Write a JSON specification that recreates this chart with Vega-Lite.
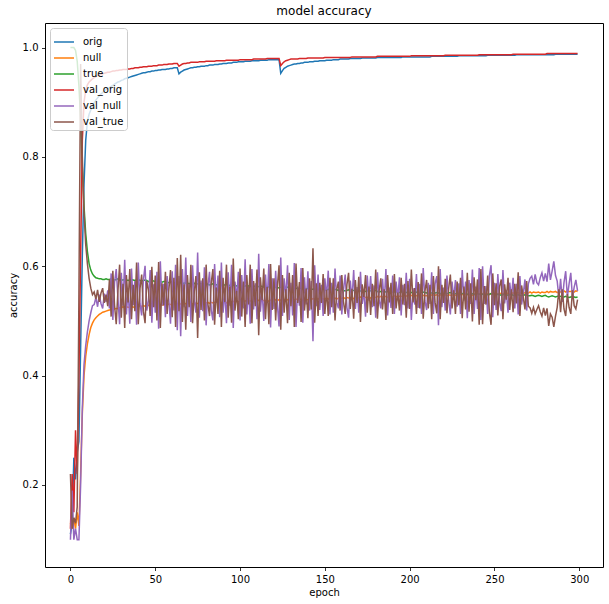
{"$schema":"https://vega.github.io/schema/vega-lite/v6.json","width":558,"height":544,"autosize":{"type":"none"},"padding":{"left":45,"top":23,"right":6,"bottom":37},"background":"white",
"title":{"text":"model accuracy","fontSize":12,"font":"DejaVu Sans","fontWeight":"normal","color":"black","offset":5},
"config":{"view":{"stroke":"black","strokeWidth":1},"font":"DejaVu Sans","axis":{"domain":false,"grid":false,"ticks":true,"tickColor":"black","tickSize":3.5,"tickWidth":0.8,"labelFont":"DejaVu Sans","labelFontSize":10,"labelColor":"black","labelPadding":3.5,"titleFont":"DejaVu Sans","titleFontSize":10,"titleFontWeight":"normal","titleColor":"black"},"legend":{"labelFont":"DejaVu Sans","labelFontSize":10,"labelColor":"black"}},
"data":{"values":[
{"e":0,"orig":0.11,"null":0.13,"true":1,"val_orig":0.12,"val_null":0.1,"val_true":0.22},
{"e":1,"orig":0.13,"null":0.12,"true":1,"val_orig":0.22,"val_null":0.19,"val_true":0.12},
{"e":2,"orig":0.25,"null":0.14,"true":1,"val_orig":0.15,"val_null":0.1,"val_true":0.14},
{"e":3,"orig":0.21,"null":0.12,"true":0.995,"val_orig":0.3,"val_null":0.12,"val_true":0.13},
{"e":4,"orig":0.26,"null":0.15,"true":0.975,"val_orig":0.22,"val_null":0.1,"val_true":0.16},
{"e":5,"orig":0.28,"null":0.125,"true":0.93,"val_orig":0.4,"val_null":0.1,"val_true":0.55},
{"e":6,"orig":0.45,"null":0.22,"true":0.87,"val_orig":0.62,"val_null":0.2,"val_true":0.97},
{"e":7,"orig":0.62,"null":0.33,"true":0.78,"val_orig":0.83,"val_null":0.34,"val_true":0.8},
{"e":8,"orig":0.75,"null":0.4,"true":0.71,"val_orig":0.9,"val_null":0.42,"val_true":0.7},
{"e":9,"orig":0.83,"null":0.435,"true":0.66,"val_orig":0.922,"val_null":0.455,"val_true":0.64},
{"e":10,"orig":0.865,"null":0.458,"true":0.627,"val_orig":0.932,"val_null":0.48,"val_true":0.605},
{"e":11,"orig":0.878,"null":0.475,"true":0.605,"val_orig":0.937,"val_null":0.5,"val_true":0.578},
{"e":12,"orig":0.886,"null":0.488,"true":0.593,"val_orig":0.94,"val_null":0.515,"val_true":0.56},
{"e":13,"orig":0.893,"null":0.496,"true":0.586,"val_orig":0.943,"val_null":0.528,"val_true":0.548},
{"e":14,"orig":0.899,"null":0.502,"true":0.582,"val_orig":0.945,"val_null":0.53,"val_true":0.553},
{"e":15,"orig":0.904,"null":0.506,"true":0.579,"val_orig":0.947,"val_null":0.543,"val_true":0.54},
{"e":16,"orig":0.908,"null":0.509,"true":0.578,"val_orig":0.949,"val_null":0.526,"val_true":0.557},
{"e":17,"orig":0.912,"null":0.512,"true":0.577,"val_orig":0.95,"val_null":0.548,"val_true":0.535},
{"e":18,"orig":0.915,"null":0.514,"true":0.577,"val_orig":0.951,"val_null":0.532,"val_true":0.551},
{"e":19,"orig":0.918,"null":0.516,"true":0.576,"val_orig":0.952,"val_null":0.523,"val_true":0.56},
{"e":20,"orig":0.921,"null":0.517,"true":0.576,"val_orig":0.953,"val_null":0.55,"val_true":0.533},
{"e":21,"orig":0.923,"null":0.518,"true":0.577,"val_orig":0.954,"val_null":0.535,"val_true":0.548},
{"e":22,"orig":0.925,"null":0.519,"true":0.576,"val_orig":0.955,"val_null":0.556,"val_true":0.527},
{"e":23,"orig":0.927,"null":0.52,"true":0.576,"val_orig":0.955,"val_null":0.523,"val_true":0.576},
{"e":24,"orig":0.929,"null":0.521,"true":0.577,"val_orig":0.956,"val_null":0.587,"val_true":0.508},
{"e":25,"orig":0.931,"null":0.522,"true":0.576,"val_orig":0.957,"val_null":0.502,"val_true":0.592},
{"e":26,"orig":0.933,"null":0.522,"true":0.575,"val_orig":0.957,"val_null":0.57,"val_true":0.529},
{"e":27,"orig":0.935,"null":0.523,"true":0.576,"val_orig":0.958,"val_null":0.595,"val_true":0.494},
{"e":28,"orig":0.937,"null":0.523,"true":0.577,"val_orig":0.958,"val_null":0.541,"val_true":0.555},
{"e":29,"orig":0.938,"null":0.524,"true":0.576,"val_orig":0.959,"val_null":0.494,"val_true":0.603},
{"e":30,"orig":0.94,"null":0.524,"true":0.575,"val_orig":0.959,"val_null":0.588,"val_true":0.506},
{"e":31,"orig":0.941,"null":0.526,"true":0.575,"val_orig":0.96,"val_null":0.528,"val_true":0.568},
{"e":32,"orig":0.943,"null":0.524,"true":0.576,"val_orig":0.96,"val_null":0.612,"val_true":0.487},
{"e":33,"orig":0.944,"null":0.526,"true":0.575,"val_orig":0.96,"val_null":0.512,"val_true":0.584},
{"e":34,"orig":0.945,"null":0.525,"true":0.574,"val_orig":0.961,"val_null":0.56,"val_true":0.534},
{"e":35,"orig":0.946,"null":0.525,"true":0.575,"val_orig":0.961,"val_null":0.495,"val_true":0.595},
{"e":36,"orig":0.947,"null":0.527,"true":0.576,"val_orig":0.962,"val_null":0.596,"val_true":0.503},
{"e":37,"orig":0.948,"null":0.525,"true":0.575,"val_orig":0.962,"val_null":0.529,"val_true":0.566},
{"e":38,"orig":0.949,"null":0.527,"true":0.574,"val_orig":0.963,"val_null":0.573,"val_true":0.518},
{"e":39,"orig":0.95,"null":0.526,"true":0.575,"val_orig":0.963,"val_null":0.493,"val_true":0.607},
{"e":40,"orig":0.951,"null":0.526,"true":0.576,"val_orig":0.963,"val_null":0.607,"val_true":0.494},
{"e":41,"orig":0.952,"null":0.528,"true":0.574,"val_orig":0.964,"val_null":0.532,"val_true":0.559},
{"e":42,"orig":0.953,"null":0.526,"true":0.573,"val_orig":0.964,"val_null":0.51,"val_true":0.585},
{"e":43,"orig":0.954,"null":0.528,"true":0.574,"val_orig":0.965,"val_null":0.575,"val_true":0.518},
{"e":44,"orig":0.954,"null":0.527,"true":0.575,"val_orig":0.965,"val_null":0.601,"val_true":0.496},
{"e":45,"orig":0.955,"null":0.527,"true":0.574,"val_orig":0.965,"val_null":0.519,"val_true":0.573},
{"e":46,"orig":0.956,"null":0.529,"true":0.572,"val_orig":0.966,"val_null":0.538,"val_true":0.557},
{"e":47,"orig":0.956,"null":0.527,"true":0.573,"val_orig":0.966,"val_null":0.593,"val_true":0.509},
{"e":48,"orig":0.957,"null":0.529,"true":0.574,"val_orig":0.966,"val_null":0.497,"val_true":0.599},
{"e":49,"orig":0.957,"null":0.528,"true":0.573,"val_orig":0.967,"val_null":0.567,"val_true":0.525},
{"e":50,"orig":0.958,"null":0.528,"true":0.572,"val_orig":0.967,"val_null":0.515,"val_true":0.583},
{"e":51,"orig":0.958,"null":0.53,"true":0.572,"val_orig":0.967,"val_null":0.59,"val_true":0.501},
{"e":52,"orig":0.959,"null":0.528,"true":0.573,"val_orig":0.968,"val_null":0.486,"val_true":0.608},
{"e":53,"orig":0.959,"null":0.53,"true":0.572,"val_orig":0.968,"val_null":0.609,"val_true":0.487},
{"e":54,"orig":0.96,"null":0.529,"true":0.571,"val_orig":0.968,"val_null":0.528,"val_true":0.569},
{"e":55,"orig":0.96,"null":0.529,"true":0.572,"val_orig":0.969,"val_null":0.568,"val_true":0.529},
{"e":56,"orig":0.96,"null":0.531,"true":0.572,"val_orig":0.969,"val_null":0.507,"val_true":0.59},
{"e":57,"orig":0.961,"null":0.529,"true":0.571,"val_orig":0.969,"val_null":0.582,"val_true":0.513},
{"e":58,"orig":0.961,"null":0.531,"true":0.57,"val_orig":0.97,"val_null":0.54,"val_true":0.556},
{"e":59,"orig":0.962,"null":0.53,"true":0.571,"val_orig":0.97,"val_null":0.495,"val_true":0.593},
{"e":60,"orig":0.962,"null":0.53,"true":0.572,"val_orig":0.97,"val_null":0.591,"val_true":0.507},
{"e":61,"orig":0.963,"null":0.532,"true":0.57,"val_orig":0.971,"val_null":0.519,"val_true":0.579},
{"e":62,"orig":0.963,"null":0.53,"true":0.569,"val_orig":0.971,"val_null":0.603,"val_true":0.489},
{"e":63,"orig":0.963,"null":0.532,"true":0.57,"val_orig":0.971,"val_null":0.483,"val_true":0.615},
{"e":64,"orig":0.952,"null":0.531,"true":0.571,"val_orig":0.966,"val_null":0.582,"val_true":0.518},
{"e":65,"orig":0.955,"null":0.531,"true":0.57,"val_orig":0.968,"val_null":0.472,"val_true":0.621},
{"e":66,"orig":0.957,"null":0.532,"true":0.569,"val_orig":0.97,"val_null":0.595,"val_true":0.498},
{"e":67,"orig":0.959,"null":0.53,"true":0.569,"val_orig":0.971,"val_null":0.525,"val_true":0.567},
{"e":68,"orig":0.96,"null":0.532,"true":0.57,"val_orig":0.971,"val_null":0.616,"val_true":0.484},
{"e":69,"orig":0.961,"null":0.532,"true":0.569,"val_orig":0.972,"val_null":0.509,"val_true":0.584},
{"e":70,"orig":0.962,"null":0.532,"true":0.568,"val_orig":0.972,"val_null":0.568,"val_true":0.525},
{"e":71,"orig":0.963,"null":0.533,"true":0.569,"val_orig":0.973,"val_null":0.498,"val_true":0.603},
{"e":72,"orig":0.963,"null":0.531,"true":0.57,"val_orig":0.973,"val_null":0.602,"val_true":0.496},
{"e":73,"orig":0.964,"null":0.533,"true":0.569,"val_orig":0.973,"val_null":0.537,"val_true":0.553},
{"e":74,"orig":0.964,"null":0.532,"true":0.567,"val_orig":0.973,"val_null":0.515,"val_true":0.582},
{"e":75,"orig":0.965,"null":0.532,"true":0.568,"val_orig":0.973,"val_null":0.625,"val_true":0.469},
{"e":76,"orig":0.965,"null":0.533,"true":0.569,"val_orig":0.974,"val_null":0.506,"val_true":0.589},
{"e":77,"orig":0.966,"null":0.532,"true":0.568,"val_orig":0.974,"val_null":0.574,"val_true":0.52},
{"e":78,"orig":0.966,"null":0.534,"true":0.567,"val_orig":0.974,"val_null":0.518,"val_true":0.578},
{"e":79,"orig":0.966,"null":0.533,"true":0.568,"val_orig":0.974,"val_null":0.598,"val_true":0.501},
{"e":80,"orig":0.967,"null":0.533,"true":0.569,"val_orig":0.975,"val_null":0.492,"val_true":0.603},
{"e":81,"orig":0.967,"null":0.534,"true":0.567,"val_orig":0.975,"val_null":0.562,"val_true":0.532},
{"e":82,"orig":0.968,"null":0.532,"true":0.566,"val_orig":0.975,"val_null":0.59,"val_true":0.509},
{"e":83,"orig":0.968,"null":0.534,"true":0.567,"val_orig":0.975,"val_null":0.52,"val_true":0.569},
{"e":84,"orig":0.968,"null":0.533,"true":0.568,"val_orig":0.975,"val_null":0.501,"val_true":0.595},
{"e":85,"orig":0.969,"null":0.534,"true":0.567,"val_orig":0.975,"val_null":0.604,"val_true":0.493},
{"e":86,"orig":0.969,"null":0.535,"true":0.566,"val_orig":0.976,"val_null":0.533,"val_true":0.561},
{"e":87,"orig":0.969,"null":0.533,"true":0.567,"val_orig":0.976,"val_null":0.583,"val_true":0.513},
{"e":88,"orig":0.97,"null":0.535,"true":0.567,"val_orig":0.976,"val_null":0.507,"val_true":0.592},
{"e":89,"orig":0.97,"null":0.534,"true":0.566,"val_orig":0.976,"val_null":0.607,"val_true":0.489},
{"e":90,"orig":0.971,"null":0.534,"true":0.565,"val_orig":0.976,"val_null":0.515,"val_true":0.579},
{"e":91,"orig":0.971,"null":0.535,"true":0.566,"val_orig":0.976,"val_null":0.555,"val_true":0.535},
{"e":92,"orig":0.971,"null":0.533,"true":0.567,"val_orig":0.977,"val_null":0.496,"val_true":0.603},
{"e":93,"orig":0.972,"null":0.536,"true":0.566,"val_orig":0.977,"val_null":0.589,"val_true":0.506},
{"e":94,"orig":0.972,"null":0.535,"true":0.565,"val_orig":0.977,"val_null":0.528,"val_true":0.563},
{"e":95,"orig":0.972,"null":0.535,"true":0.565,"val_orig":0.977,"val_null":0.603,"val_true":0.497},
{"e":96,"orig":0.973,"null":0.536,"true":0.566,"val_orig":0.977,"val_null":0.487,"val_true":0.614},
{"e":97,"orig":0.973,"null":0.534,"true":0.565,"val_orig":0.977,"val_null":0.572,"val_true":0.519},
{"e":98,"orig":0.973,"null":0.536,"true":0.564,"val_orig":0.977,"val_null":0.54,"val_true":0.555},
{"e":99,"orig":0.974,"null":0.535,"true":0.565,"val_orig":0.977,"val_null":0.59,"val_true":0.503},
{"e":100,"orig":0.974,"null":0.535,"true":0.566,"val_orig":0.978,"val_null":0.501,"val_true":0.596},
{"e":101,"orig":0.974,"null":0.537,"true":0.564,"val_orig":0.978,"val_null":0.584,"val_true":0.508},
{"e":102,"orig":0.974,"null":0.535,"true":0.563,"val_orig":0.978,"val_null":0.523,"val_true":0.572},
{"e":103,"orig":0.975,"null":0.537,"true":0.564,"val_orig":0.978,"val_null":0.613,"val_true":0.489},
{"e":104,"orig":0.975,"null":0.536,"true":0.565,"val_orig":0.978,"val_null":0.512,"val_true":0.584},
{"e":105,"orig":0.975,"null":0.536,"true":0.564,"val_orig":0.978,"val_null":0.562,"val_true":0.53},
{"e":106,"orig":0.975,"null":0.537,"true":0.563,"val_orig":0.978,"val_null":0.495,"val_true":0.603},
{"e":107,"orig":0.976,"null":0.535,"true":0.564,"val_orig":0.978,"val_null":0.595,"val_true":0.496},
{"e":108,"orig":0.976,"null":0.537,"true":0.564,"val_orig":0.979,"val_null":0.521,"val_true":0.573},
{"e":109,"orig":0.976,"null":0.536,"true":0.563,"val_orig":0.979,"val_null":0.569,"val_true":0.527},
{"e":110,"orig":0.976,"null":0.536,"true":0.562,"val_orig":0.979,"val_null":0.503,"val_true":0.594},
{"e":111,"orig":0.976,"null":0.538,"true":0.563,"val_orig":0.979,"val_null":0.623,"val_true":0.474},
{"e":112,"orig":0.977,"null":0.536,"true":0.564,"val_orig":0.979,"val_null":0.517,"val_true":0.58},
{"e":113,"orig":0.977,"null":0.538,"true":0.563,"val_orig":0.979,"val_null":0.557,"val_true":0.538},
{"e":114,"orig":0.977,"null":0.537,"true":0.562,"val_orig":0.979,"val_null":0.5,"val_true":0.596},
{"e":115,"orig":0.977,"null":0.537,"true":0.562,"val_orig":0.979,"val_null":0.585,"val_true":0.503},
{"e":116,"orig":0.977,"null":0.538,"true":0.563,"val_orig":0.98,"val_null":0.536,"val_true":0.562},
{"e":117,"orig":0.978,"null":0.536,"true":0.562,"val_orig":0.98,"val_null":0.604,"val_true":0.494},
{"e":118,"orig":0.978,"null":0.538,"true":0.561,"val_orig":0.98,"val_null":0.488,"val_true":0.604},
{"e":119,"orig":0.978,"null":0.537,"true":0.562,"val_orig":0.98,"val_null":0.578,"val_true":0.52},
{"e":120,"orig":0.978,"null":0.537,"true":0.563,"val_orig":0.98,"val_null":0.522,"val_true":0.578},
{"e":121,"orig":0.978,"null":0.539,"true":0.562,"val_orig":0.98,"val_null":0.592,"val_true":0.501},
{"e":122,"orig":0.978,"null":0.537,"true":0.56,"val_orig":0.98,"val_null":0.53,"val_true":0.563},
{"e":123,"orig":0.978,"null":0.539,"true":0.561,"val_orig":0.98,"val_null":0.49,"val_true":0.602},
{"e":124,"orig":0.953,"null":0.538,"true":0.562,"val_orig":0.967,"val_null":0.616,"val_true":0.484},
{"e":125,"orig":0.958,"null":0.538,"true":0.561,"val_orig":0.971,"val_null":0.509,"val_true":0.584},
{"e":126,"orig":0.962,"null":0.539,"true":0.56,"val_orig":0.974,"val_null":0.578,"val_true":0.515},
{"e":127,"orig":0.964,"null":0.537,"true":0.561,"val_orig":0.976,"val_null":0.543,"val_true":0.558},
{"e":128,"orig":0.966,"null":0.539,"true":0.562,"val_orig":0.977,"val_null":0.602,"val_true":0.496},
{"e":129,"orig":0.967,"null":0.538,"true":0.56,"val_orig":0.978,"val_null":0.502,"val_true":0.588},
{"e":130,"orig":0.968,"null":0.538,"true":0.559,"val_orig":0.979,"val_null":0.57,"val_true":0.527},
{"e":131,"orig":0.969,"null":0.54,"true":0.56,"val_orig":0.979,"val_null":0.51,"val_true":0.584},
{"e":132,"orig":0.97,"null":0.538,"true":0.561,"val_orig":0.979,"val_null":0.606,"val_true":0.489},
{"e":133,"orig":0.97,"null":0.54,"true":0.56,"val_orig":0.979,"val_null":0.489,"val_true":0.605},
{"e":134,"orig":0.971,"null":0.539,"true":0.559,"val_orig":0.979,"val_null":0.563,"val_true":0.533},
{"e":135,"orig":0.971,"null":0.539,"true":0.56,"val_orig":0.98,"val_null":0.528,"val_true":0.571},
{"e":136,"orig":0.972,"null":0.54,"true":0.56,"val_orig":0.98,"val_null":0.597,"val_true":0.498},
{"e":137,"orig":0.972,"null":0.538,"true":0.559,"val_orig":0.98,"val_null":0.497,"val_true":0.597},
{"e":138,"orig":0.973,"null":0.54,"true":0.558,"val_orig":0.98,"val_null":0.58,"val_true":0.519},
{"e":139,"orig":0.973,"null":0.539,"true":0.559,"val_orig":0.98,"val_null":0.53,"val_true":0.559},
{"e":140,"orig":0.973,"null":0.539,"true":0.56,"val_orig":0.981,"val_null":0.591,"val_true":0.505},
{"e":141,"orig":0.974,"null":0.541,"true":0.559,"val_orig":0.981,"val_null":0.519,"val_true":0.578},
{"e":142,"orig":0.974,"null":0.539,"true":0.558,"val_orig":0.981,"val_null":0.573,"val_true":0.521},
{"e":143,"orig":0.974,"null":0.541,"true":0.558,"val_orig":0.981,"val_null":0.463,"val_true":0.633},
{"e":144,"orig":0.975,"null":0.54,"true":0.559,"val_orig":0.981,"val_null":0.602,"val_true":0.497},
{"e":145,"orig":0.975,"null":0.54,"true":0.558,"val_orig":0.981,"val_null":0.527,"val_true":0.569},
{"e":146,"orig":0.975,"null":0.541,"true":0.557,"val_orig":0.981,"val_null":0.585,"val_true":0.509},
{"e":147,"orig":0.976,"null":0.539,"true":0.558,"val_orig":0.981,"val_null":0.52,"val_true":0.57},
{"e":148,"orig":0.976,"null":0.541,"true":0.559,"val_orig":0.981,"val_null":0.566,"val_true":0.533},
{"e":149,"orig":0.976,"null":0.54,"true":0.558,"val_orig":0.981,"val_null":0.509,"val_true":0.586},
{"e":150,"orig":0.976,"null":0.54,"true":0.557,"val_orig":0.982,"val_null":0.578,"val_true":0.513},
{"e":151,"orig":0.977,"null":0.542,"true":0.557,"val_orig":0.982,"val_null":0.543,"val_true":0.557},
{"e":152,"orig":0.977,"null":0.54,"true":0.558,"val_orig":0.982,"val_null":0.592,"val_true":0.509},
{"e":153,"orig":0.977,"null":0.542,"true":0.557,"val_orig":0.982,"val_null":0.512,"val_true":0.579},
{"e":154,"orig":0.977,"null":0.541,"true":0.556,"val_orig":0.982,"val_null":0.57,"val_true":0.525},
{"e":155,"orig":0.978,"null":0.541,"true":0.557,"val_orig":0.982,"val_null":0.515,"val_true":0.578},
{"e":156,"orig":0.978,"null":0.542,"true":0.558,"val_orig":0.982,"val_null":0.596,"val_true":0.501},
{"e":157,"orig":0.978,"null":0.54,"true":0.557,"val_orig":0.982,"val_null":0.534,"val_true":0.558},
{"e":158,"orig":0.978,"null":0.542,"true":0.556,"val_orig":0.982,"val_null":0.523,"val_true":0.572},
{"e":159,"orig":0.979,"null":0.541,"true":0.557,"val_orig":0.982,"val_null":0.583,"val_true":0.519},
{"e":160,"orig":0.979,"null":0.541,"true":0.558,"val_orig":0.982,"val_null":0.512,"val_true":0.584},
{"e":161,"orig":0.979,"null":0.543,"true":0.556,"val_orig":0.982,"val_null":0.557,"val_true":0.535},
{"e":162,"orig":0.979,"null":0.541,"true":0.555,"val_orig":0.982,"val_null":0.585,"val_true":0.513},
{"e":163,"orig":0.979,"null":0.543,"true":0.556,"val_orig":0.982,"val_null":0.525,"val_true":0.566},
{"e":164,"orig":0.979,"null":0.542,"true":0.557,"val_orig":0.982,"val_null":0.506,"val_true":0.588},
{"e":165,"orig":0.98,"null":0.542,"true":0.556,"val_orig":0.982,"val_null":0.574,"val_true":0.522},
{"e":166,"orig":0.98,"null":0.543,"true":0.555,"val_orig":0.983,"val_null":0.538,"val_true":0.559},
{"e":167,"orig":0.98,"null":0.541,"true":0.556,"val_orig":0.983,"val_null":0.593,"val_true":0.504},
{"e":168,"orig":0.98,"null":0.543,"true":0.557,"val_orig":0.983,"val_null":0.522,"val_true":0.575},
{"e":169,"orig":0.98,"null":0.542,"true":0.556,"val_orig":0.983,"val_null":0.562,"val_true":0.533},
{"e":170,"orig":0.98,"null":0.542,"true":0.555,"val_orig":0.983,"val_null":0.515,"val_true":0.581},
{"e":171,"orig":0.98,"null":0.544,"true":0.555,"val_orig":0.983,"val_null":0.59,"val_true":0.498},
{"e":172,"orig":0.981,"null":0.542,"true":0.556,"val_orig":0.983,"val_null":0.531,"val_true":0.567},
{"e":173,"orig":0.981,"null":0.544,"true":0.555,"val_orig":0.983,"val_null":0.554,"val_true":0.544},
{"e":174,"orig":0.981,"null":0.543,"true":0.554,"val_orig":0.983,"val_null":0.508,"val_true":0.584},
{"e":175,"orig":0.981,"null":0.543,"true":0.555,"val_orig":0.983,"val_null":0.583,"val_true":0.515},
{"e":176,"orig":0.981,"null":0.544,"true":0.556,"val_orig":0.983,"val_null":0.537,"val_true":0.563},
{"e":177,"orig":0.981,"null":0.542,"true":0.555,"val_orig":0.983,"val_null":0.582,"val_true":0.511},
{"e":178,"orig":0.981,"null":0.544,"true":0.554,"val_orig":0.983,"val_null":0.525,"val_true":0.568},
{"e":179,"orig":0.981,"null":0.543,"true":0.555,"val_orig":0.983,"val_null":0.565,"val_true":0.527},
{"e":180,"orig":0.981,"null":0.543,"true":0.556,"val_orig":0.983,"val_null":0.506,"val_true":0.594},
{"e":181,"orig":0.982,"null":0.545,"true":0.554,"val_orig":0.984,"val_null":0.589,"val_true":0.504},
{"e":182,"orig":0.982,"null":0.543,"true":0.553,"val_orig":0.984,"val_null":0.538,"val_true":0.555},
{"e":183,"orig":0.982,"null":0.545,"true":0.554,"val_orig":0.984,"val_null":0.523,"val_true":0.578},
{"e":184,"orig":0.982,"null":0.544,"true":0.555,"val_orig":0.984,"val_null":0.577,"val_true":0.521},
{"e":185,"orig":0.982,"null":0.544,"true":0.554,"val_orig":0.984,"val_null":0.532,"val_true":0.558},
{"e":186,"orig":0.982,"null":0.545,"true":0.553,"val_orig":0.984,"val_null":0.595,"val_true":0.502},
{"e":187,"orig":0.982,"null":0.543,"true":0.554,"val_orig":0.984,"val_null":0.51,"val_true":0.584},
{"e":188,"orig":0.982,"null":0.545,"true":0.555,"val_orig":0.984,"val_null":0.561,"val_true":0.534},
{"e":189,"orig":0.982,"null":0.544,"true":0.554,"val_orig":0.984,"val_null":0.524,"val_true":0.57},
{"e":190,"orig":0.982,"null":0.544,"true":0.553,"val_orig":0.984,"val_null":0.583,"val_true":0.513},
{"e":191,"orig":0.982,"null":0.546,"true":0.553,"val_orig":0.984,"val_null":0.513,"val_true":0.586},
{"e":192,"orig":0.982,"null":0.544,"true":0.554,"val_orig":0.984,"val_null":0.572,"val_true":0.523},
{"e":193,"orig":0.982,"null":0.546,"true":0.553,"val_orig":0.984,"val_null":0.542,"val_true":0.552},
{"e":194,"orig":0.982,"null":0.545,"true":0.552,"val_orig":0.984,"val_null":0.58,"val_true":0.519},
{"e":195,"orig":0.982,"null":0.545,"true":0.553,"val_orig":0.984,"val_null":0.51,"val_true":0.579},
{"e":196,"orig":0.983,"null":0.546,"true":0.554,"val_orig":0.984,"val_null":0.566,"val_true":0.53},
{"e":197,"orig":0.983,"null":0.544,"true":0.553,"val_orig":0.984,"val_null":0.529,"val_true":0.568},
{"e":198,"orig":0.983,"null":0.546,"true":0.552,"val_orig":0.984,"val_null":0.588,"val_true":0.506},
{"e":199,"orig":0.983,"null":0.545,"true":0.553,"val_orig":0.984,"val_null":0.523,"val_true":0.573},
{"e":200,"orig":0.983,"null":0.545,"true":0.554,"val_orig":0.984,"val_null":0.577,"val_true":0.522},
{"e":201,"orig":0.983,"null":0.547,"true":0.552,"val_orig":0.985,"val_null":0.502,"val_true":0.594},
{"e":202,"orig":0.983,"null":0.545,"true":0.551,"val_orig":0.985,"val_null":0.56,"val_true":0.534},
{"e":203,"orig":0.983,"null":0.547,"true":0.552,"val_orig":0.985,"val_null":0.53,"val_true":0.56},
{"e":204,"orig":0.983,"null":0.546,"true":0.553,"val_orig":0.985,"val_null":0.586,"val_true":0.513},
{"e":205,"orig":0.983,"null":0.546,"true":0.552,"val_orig":0.985,"val_null":0.524,"val_true":0.571},
{"e":206,"orig":0.983,"null":0.547,"true":0.551,"val_orig":0.985,"val_null":0.568,"val_true":0.523},
{"e":207,"orig":0.983,"null":0.545,"true":0.552,"val_orig":0.985,"val_null":0.513,"val_true":0.587},
{"e":208,"orig":0.983,"null":0.547,"true":0.553,"val_orig":0.985,"val_null":0.597,"val_true":0.504},
{"e":209,"orig":0.983,"null":0.546,"true":0.552,"val_orig":0.985,"val_null":0.537,"val_true":0.554},
{"e":210,"orig":0.983,"null":0.546,"true":0.551,"val_orig":0.985,"val_null":0.52,"val_true":0.575},
{"e":211,"orig":0.983,"null":0.547,"true":0.552,"val_orig":0.985,"val_null":0.57,"val_true":0.523},
{"e":212,"orig":0.983,"null":0.545,"true":0.553,"val_orig":0.985,"val_null":0.531,"val_true":0.566},
{"e":213,"orig":0.984,"null":0.548,"true":0.551,"val_orig":0.985,"val_null":0.589,"val_true":0.503},
{"e":214,"orig":0.984,"null":0.547,"true":0.55,"val_orig":0.985,"val_null":0.513,"val_true":0.582},
{"e":215,"orig":0.984,"null":0.547,"true":0.551,"val_orig":0.985,"val_null":0.568,"val_true":0.534},
{"e":216,"orig":0.984,"null":0.548,"true":0.552,"val_orig":0.985,"val_null":0.582,"val_true":0.514},
{"e":217,"orig":0.984,"null":0.546,"true":0.551,"val_orig":0.985,"val_null":0.492,"val_true":0.6},
{"e":218,"orig":0.984,"null":0.548,"true":0.55,"val_orig":0.985,"val_null":0.595,"val_true":0.503},
{"e":219,"orig":0.984,"null":0.547,"true":0.551,"val_orig":0.985,"val_null":0.525,"val_true":0.566},
{"e":220,"orig":0.984,"null":0.547,"true":0.552,"val_orig":0.985,"val_null":0.561,"val_true":0.533},
{"e":221,"orig":0.984,"null":0.548,"true":0.551,"val_orig":0.986,"val_null":0.519,"val_true":0.577},
{"e":222,"orig":0.984,"null":0.546,"true":0.55,"val_orig":0.986,"val_null":0.583,"val_true":0.514},
{"e":223,"orig":0.984,"null":0.548,"true":0.551,"val_orig":0.986,"val_null":0.538,"val_true":0.559},
{"e":224,"orig":0.984,"null":0.547,"true":0.552,"val_orig":0.986,"val_null":0.512,"val_true":0.585},
{"e":225,"orig":0.984,"null":0.547,"true":0.551,"val_orig":0.986,"val_null":0.572,"val_true":0.523},
{"e":226,"orig":0.984,"null":0.549,"true":0.549,"val_orig":0.986,"val_null":0.54,"val_true":0.556},
{"e":227,"orig":0.984,"null":0.547,"true":0.55,"val_orig":0.986,"val_null":0.575,"val_true":0.513},
{"e":228,"orig":0.984,"null":0.549,"true":0.551,"val_orig":0.986,"val_null":0.526,"val_true":0.572},
{"e":229,"orig":0.985,"null":0.548,"true":0.55,"val_orig":0.986,"val_null":0.569,"val_true":0.529},
{"e":230,"orig":0.985,"null":0.548,"true":0.549,"val_orig":0.986,"val_null":0.513,"val_true":0.579},
{"e":231,"orig":0.985,"null":0.549,"true":0.55,"val_orig":0.986,"val_null":0.593,"val_true":0.505},
{"e":232,"orig":0.985,"null":0.547,"true":0.551,"val_orig":0.986,"val_null":0.537,"val_true":0.563},
{"e":233,"orig":0.985,"null":0.549,"true":0.55,"val_orig":0.986,"val_null":0.572,"val_true":0.521},
{"e":234,"orig":0.985,"null":0.548,"true":0.549,"val_orig":0.986,"val_null":0.505,"val_true":0.588},
{"e":235,"orig":0.985,"null":0.548,"true":0.55,"val_orig":0.986,"val_null":0.575,"val_true":0.517},
{"e":236,"orig":0.985,"null":0.549,"true":0.551,"val_orig":0.986,"val_null":0.531,"val_true":0.569},
{"e":237,"orig":0.985,"null":0.547,"true":0.55,"val_orig":0.986,"val_null":0.594,"val_true":0.499},
{"e":238,"orig":0.985,"null":0.55,"true":0.548,"val_orig":0.986,"val_null":0.513,"val_true":0.58},
{"e":239,"orig":0.985,"null":0.549,"true":0.549,"val_orig":0.986,"val_null":0.563,"val_true":0.538},
{"e":240,"orig":0.985,"null":0.549,"true":0.55,"val_orig":0.986,"val_null":0.522,"val_true":0.576},
{"e":241,"orig":0.985,"null":0.55,"true":0.549,"val_orig":0.987,"val_null":0.597,"val_true":0.493},
{"e":242,"orig":0.985,"null":0.548,"true":0.548,"val_orig":0.987,"val_null":0.502,"val_true":0.595},
{"e":243,"orig":0.985,"null":0.55,"true":0.549,"val_orig":0.987,"val_null":0.6,"val_true":0.494},
{"e":244,"orig":0.985,"null":0.549,"true":0.55,"val_orig":0.987,"val_null":0.531,"val_true":0.564},
{"e":245,"orig":0.985,"null":0.549,"true":0.549,"val_orig":0.987,"val_null":0.564,"val_true":0.53},
{"e":246,"orig":0.986,"null":0.55,"true":0.548,"val_orig":0.987,"val_null":0.513,"val_true":0.583},
{"e":247,"orig":0.986,"null":0.548,"true":0.549,"val_orig":0.987,"val_null":0.583,"val_true":0.516},
{"e":248,"orig":0.986,"null":0.55,"true":0.55,"val_orig":0.987,"val_null":0.602,"val_true":0.493},
{"e":249,"orig":0.986,"null":0.549,"true":0.549,"val_orig":0.987,"val_null":0.507,"val_true":0.587},
{"e":250,"orig":0.986,"null":0.549,"true":0.548,"val_orig":0.987,"val_null":0.57,"val_true":0.529},
{"e":251,"orig":0.986,"null":0.551,"true":0.548,"val_orig":0.987,"val_null":0.52,"val_true":0.569},
{"e":252,"orig":0.986,"null":0.549,"true":0.549,"val_orig":0.987,"val_null":0.586,"val_true":0.51},
{"e":253,"orig":0.986,"null":0.551,"true":0.548,"val_orig":0.987,"val_null":0.534,"val_true":0.563},
{"e":254,"orig":0.986,"null":0.55,"true":0.547,"val_orig":0.987,"val_null":0.518,"val_true":0.576},
{"e":255,"orig":0.986,"null":0.55,"true":0.548,"val_orig":0.987,"val_null":0.593,"val_true":0.503},
{"e":256,"orig":0.986,"null":0.551,"true":0.549,"val_orig":0.987,"val_null":0.532,"val_true":0.567},
{"e":257,"orig":0.986,"null":0.549,"true":0.548,"val_orig":0.987,"val_null":0.557,"val_true":0.539},
{"e":258,"orig":0.986,"null":0.551,"true":0.547,"val_orig":0.987,"val_null":0.515,"val_true":0.579},
{"e":259,"orig":0.986,"null":0.55,"true":0.548,"val_orig":0.987,"val_null":0.57,"val_true":0.52},
{"e":260,"orig":0.986,"null":0.55,"true":0.549,"val_orig":0.987,"val_null":0.541,"val_true":0.558},
{"e":261,"orig":0.986,"null":0.552,"true":0.547,"val_orig":0.988,"val_null":0.579,"val_true":0.516},
{"e":262,"orig":0.986,"null":0.55,"true":0.546,"val_orig":0.988,"val_null":0.523,"val_true":0.568},
{"e":263,"orig":0.987,"null":0.552,"true":0.547,"val_orig":0.988,"val_null":0.568,"val_true":0.532},
{"e":264,"orig":0.987,"null":0.551,"true":0.548,"val_orig":0.988,"val_null":0.512,"val_true":0.589},
{"e":265,"orig":0.987,"null":0.551,"true":0.547,"val_orig":0.988,"val_null":0.582,"val_true":0.509},
{"e":266,"orig":0.987,"null":0.552,"true":0.546,"val_orig":0.988,"val_null":0.53,"val_true":0.565},
{"e":267,"orig":0.987,"null":0.55,"true":0.547,"val_orig":0.988,"val_null":0.55,"val_true":0.543},
{"e":268,"orig":0.987,"null":0.552,"true":0.548,"val_orig":0.988,"val_null":0.576,"val_true":0.521},
{"e":269,"orig":0.987,"null":0.551,"true":0.547,"val_orig":0.988,"val_null":0.519,"val_true":0.573},
{"e":270,"orig":0.987,"null":0.551,"true":0.546,"val_orig":0.988,"val_null":0.568,"val_true":0.527},
{"e":271,"orig":0.987,"null":0.553,"true":0.546,"val_orig":0.988,"val_null":0.578,"val_true":0.524},
{"e":272,"orig":0.987,"null":0.551,"true":0.547,"val_orig":0.988,"val_null":0.582,"val_true":0.514},
{"e":273,"orig":0.987,"null":0.553,"true":0.546,"val_orig":0.988,"val_null":0.567,"val_true":0.525},
{"e":274,"orig":0.987,"null":0.552,"true":0.545,"val_orig":0.988,"val_null":0.585,"val_true":0.513},
{"e":275,"orig":0.987,"null":0.552,"true":0.546,"val_orig":0.988,"val_null":0.57,"val_true":0.521},
{"e":276,"orig":0.987,"null":0.553,"true":0.547,"val_orig":0.988,"val_null":0.566,"val_true":0.528},
{"e":277,"orig":0.987,"null":0.551,"true":0.546,"val_orig":0.988,"val_null":0.579,"val_true":0.517},
{"e":278,"orig":0.987,"null":0.553,"true":0.545,"val_orig":0.988,"val_null":0.588,"val_true":0.509},
{"e":279,"orig":0.987,"null":0.552,"true":0.546,"val_orig":0.988,"val_null":0.573,"val_true":0.524},
{"e":280,"orig":0.987,"null":0.552,"true":0.547,"val_orig":0.988,"val_null":0.587,"val_true":0.51},
{"e":281,"orig":0.987,"null":0.554,"true":0.545,"val_orig":0.989,"val_null":0.572,"val_true":0.523},
{"e":282,"orig":0.987,"null":0.552,"true":0.544,"val_orig":0.989,"val_null":0.605,"val_true":0.491},
{"e":283,"orig":0.987,"null":0.554,"true":0.545,"val_orig":0.989,"val_null":0.575,"val_true":0.513},
{"e":284,"orig":0.987,"null":0.553,"true":0.546,"val_orig":0.989,"val_null":0.591,"val_true":0.507},
{"e":285,"orig":0.987,"null":0.553,"true":0.545,"val_orig":0.989,"val_null":0.609,"val_true":0.489},
{"e":286,"orig":0.988,"null":0.554,"true":0.544,"val_orig":0.989,"val_null":0.583,"val_true":0.509},
{"e":287,"orig":0.988,"null":0.552,"true":0.545,"val_orig":0.989,"val_null":0.573,"val_true":0.525},
{"e":288,"orig":0.988,"null":0.554,"true":0.546,"val_orig":0.989,"val_null":0.542,"val_true":0.558},
{"e":289,"orig":0.988,"null":0.553,"true":0.545,"val_orig":0.989,"val_null":0.577,"val_true":0.516},
{"e":290,"orig":0.988,"null":0.553,"true":0.544,"val_orig":0.989,"val_null":0.535,"val_true":0.558},
{"e":291,"orig":0.988,"null":0.555,"true":0.544,"val_orig":0.989,"val_null":0.57,"val_true":0.522},
{"e":292,"orig":0.988,"null":0.553,"true":0.545,"val_orig":0.989,"val_null":0.591,"val_true":0.509},
{"e":293,"orig":0.988,"null":0.555,"true":0.544,"val_orig":0.989,"val_null":0.544,"val_true":0.549},
{"e":294,"orig":0.988,"null":0.554,"true":0.543,"val_orig":0.989,"val_null":0.568,"val_true":0.525},
{"e":295,"orig":0.988,"null":0.554,"true":0.544,"val_orig":0.989,"val_null":0.588,"val_true":0.513},
{"e":296,"orig":0.988,"null":0.555,"true":0.545,"val_orig":0.989,"val_null":0.542,"val_true":0.556},
{"e":297,"orig":0.988,"null":0.553,"true":0.544,"val_orig":0.989,"val_null":0.562,"val_true":0.528},
{"e":298,"orig":0.988,"null":0.555,"true":0.543,"val_orig":0.989,"val_null":0.575,"val_true":0.522},
{"e":299,"orig":0.988,"null":0.554,"true":0.544,"val_orig":0.989,"val_null":0.555,"val_true":0.539}
]},
"transform":[{"fold":["orig","null","true","val_orig","val_null","val_true"],"as":["series","acc"]}],
"mark":{"type":"line","strokeWidth":1.5,"clip":true},
"encoding":{
"x":{"field":"e","type":"quantitative","title":"epoch","scale":{"domain":[-15,314],"nice":false,"zero":false},"axis":{"values":[0,50,100,150,200,250,300],"titlePadding":3}},
"y":{"field":"acc","type":"quantitative","title":"accuracy","scale":{"domain":[0.05,1.045],"nice":false,"zero":false},"axis":{"values":[0.2,0.4,0.6,0.8,1.0],"format":".1f","titlePadding":4}},
"color":{"field":"series","type":"nominal","scale":{"domain":["orig","null","true","val_orig","val_null","val_true"],"range":["#1f77b4","#ff7f0e","#2ca02c","#d62728","#9467bd","#8c564b"]},"legend":{"title":null,"orient":"top-left","offset":5,"padding":3,"fillColor":"rgba(255,255,255,0.8)","strokeColor":"#cccccc","cornerRadius":3,"symbolType":"stroke","symbolSize":400,"symbolStrokeWidth":1.5,"labelOffset":8,"rowPadding":0,"labelFontSize":10}}
}}
